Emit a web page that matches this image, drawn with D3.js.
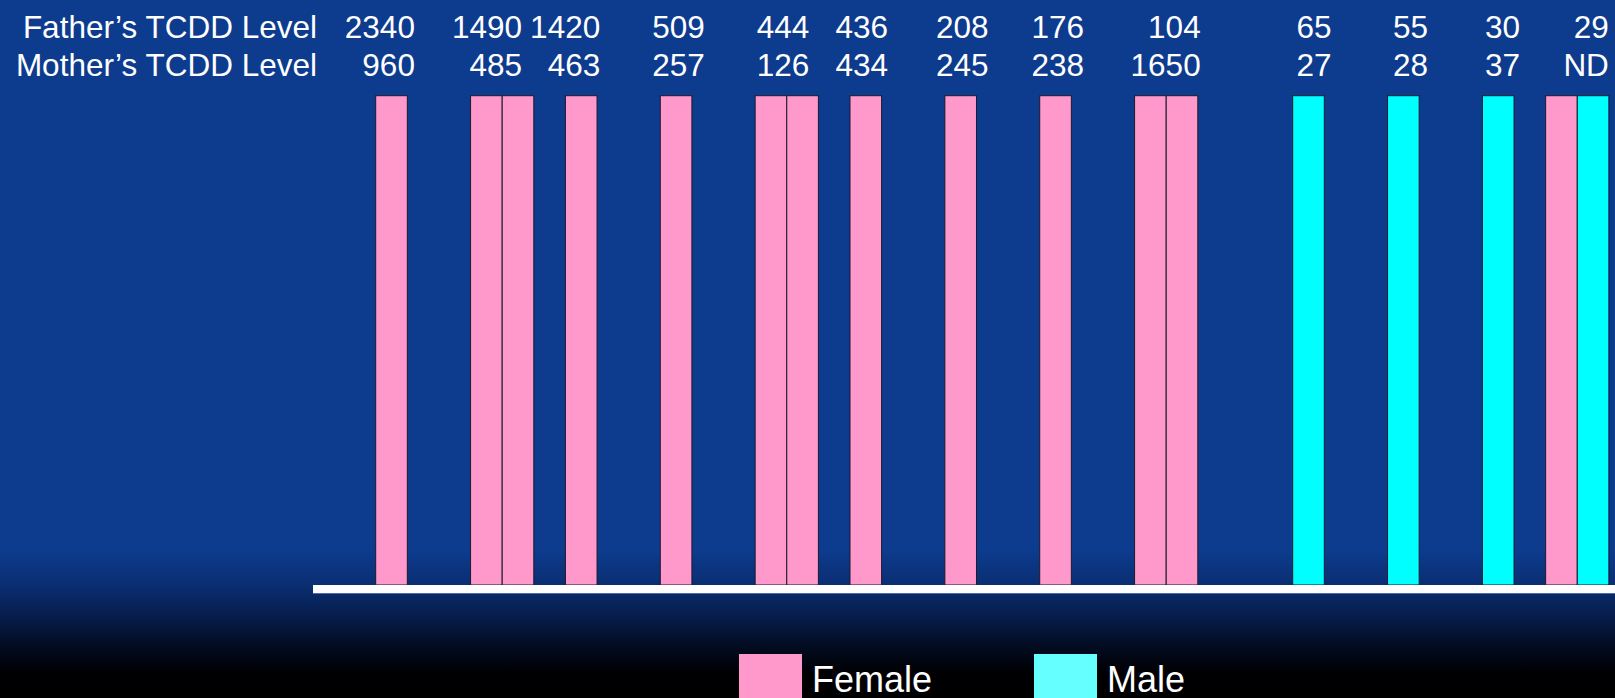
<!DOCTYPE html>
<html>
<head>
<meta charset="utf-8">
<script src="https://cdn.jsdelivr.net/npm/d3@7/dist/d3.min.js"></script>
<style>
  html, body { margin: 0; padding: 0; background: #000; }
  svg { display: block; }
  text { font-family: "Liberation Sans", Arial, sans-serif; fill: #fff; }
</style>
</head>
<body>
<svg id="chart" width="1615" height="698"></svg>
<script>
// TCDD serum levels of each parent couple, and the sex of each child born to them
const fatherLevels = ["2340", "1490", "1420", "509", "444", "436", "208", "176", "104", "65", "55", "30", "29"];
const motherLevels = ["960", "485", "463", "257", "126", "434", "245", "238", "1650", "27", "28", "37", "ND"];
const childSex = [
  ["F"], ["F", "F"], ["F"], ["F"], ["F", "F"], ["F"], ["F"], ["F"],
  ["F", "F"], ["M"], ["M"], ["M"], ["F", "M"]
];
const sexLabels = { F: "Female", M: "Male" };

// Layout: first column slot of each family, and where each family's level text ends (in slot units)
const familySlot = [0, 3, 6, 9, 12, 15, 18, 21, 24, 29, 32, 35, 37];
const labelEdge = [1.24, 4.63, 7.10, 10.41, 13.71, 16.20, 19.38, 22.40, 26.09, 30.23, 33.28, 36.19, 39.0];

const W = 1615, H = 698;
const svg = d3.select("#chart");

// Background: royal blue fading to black near the bottom
const defs = svg.append("defs");
const grad = defs.append("linearGradient")
  .attr("id", "bg").attr("gradientUnits", "userSpaceOnUse")
  .attr("x1", 0).attr("y1", 0).attr("x2", 0).attr("y2", H);
[[0, "#0d3b8e"], [550 / H, "#0d3b8e"], [585 / H, "#0a2e72"], [620 / H, "#061b47"],
 [650 / H, "#020a1c"], [672 / H, "#000004"], [1, "#000000"]]
  .forEach(([o, c]) => grad.append("stop").attr("offset", o).attr("stop-color", c));
svg.append("rect").attr("width", W).attr("height", H).attr("fill", "url(#bg)");

// One bar per child
const children = [];
childSex.forEach((kids, f) => kids.forEach((s, k) => children.push({ family: f, slot: familySlot[f] + k, sex: s, count: 1 })));

const x = d3.scaleLinear().domain([0, 39]).range([375.7, 375.7 + 39 * 31.62]);
const y = d3.scaleLinear().domain([0, 1]).range([585, 95.7]);
const barColor = d3.scaleOrdinal().domain(["F", "M"]).range(["#ff99cc", "#00ffff"]);
const legendColor = d3.scaleOrdinal().domain(["F", "M"]).range(["#ff99cc", "#66ffff"]);

svg.append("g").selectAll("rect")
  .data(children)
  .join("rect")
  .attr("x", d => x(d.slot))
  .attr("width", d => x(d.slot + 1) - x(d.slot))
  .attr("y", d => y(d.count))
  .attr("height", d => y(0) - y(d.count))
  .attr("fill", d => barColor(d.sex))
  .attr("stroke", "#1a1a2e")
  .attr("stroke-width", 1);

// Baseline
svg.append("rect").attr("x", 313).attr("y", 585).attr("width", W - 313).attr("height", 8).attr("fill", "#ffffff");
svg.append("rect").attr("x", 313).attr("y", 593).attr("width", W - 313).attr("height", 1).attr("fill", "#4a6aa8");

// Level table above the bars
const fontSize = 31.5;
const rows = [
  { title: "Father\u2019s TCDD Level", values: fatherLevels, baseline: 37.5 },
  { title: "Mother\u2019s TCDD Level", values: motherLevels, baseline: 76 }
];
rows.forEach(r => {
  svg.append("text").attr("x", 317).attr("y", r.baseline)
    .attr("text-anchor", "end").attr("font-size", fontSize).text(r.title);
  svg.append("g").selectAll("text")
    .data(r.values)
    .join("text")
    .attr("x", (d, i) => x(labelEdge[i]))
    .attr("y", r.baseline)
    .attr("text-anchor", "end")
    .attr("font-size", fontSize)
    .text(d => d);
});

// Legend
const legend = svg.append("g");
const legendX = d3.scaleOrdinal().domain(["F", "M"]).range([739, 1034]);
["F", "M"].forEach(s => {
  legend.append("rect").attr("x", legendX(s)).attr("y", 654).attr("width", 63).attr("height", 63)
    .attr("fill", legendColor(s));
  legend.append("text").attr("x", legendX(s) + 73).attr("y", 691.5)
    .attr("font-size", 36).text(sexLabels[s]);
});
</script>
</body>
</html>
